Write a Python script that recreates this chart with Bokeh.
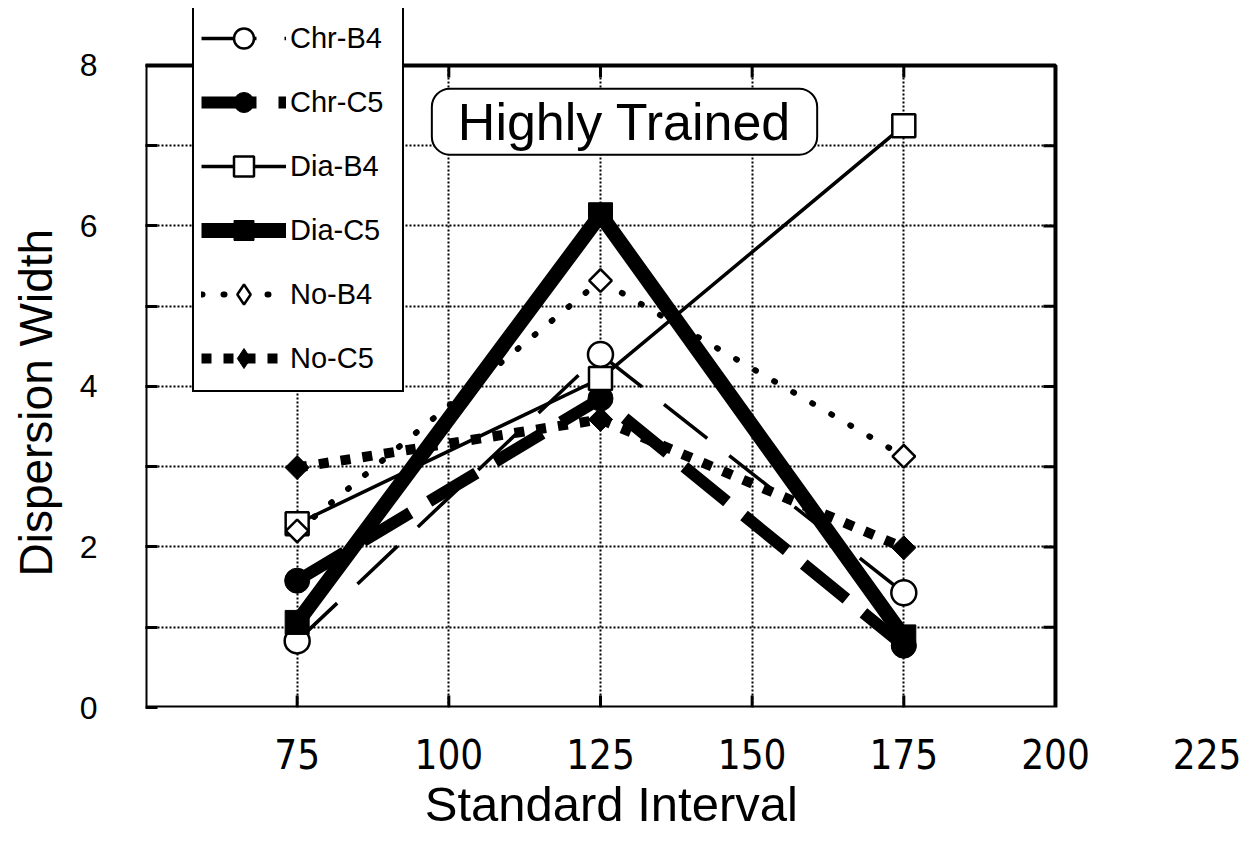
import math
from bokeh.plotting import figure
from bokeh.models import (Range1d, FixedTicker, Legend, LegendItem, Label, BoxAnnotation)
from bokeh.embed import file_html
from bokeh.resources import INLINE

# ---- data ----
intervals = [75, 125, 175]
chr_b4 = [0.83, 4.4, 1.43]
chr_c5 = [1.58, 3.85, 0.77]
dia_b4 = [2.29, 4.1, 7.25]
dia_c5 = [1.06, 6.14, 0.88]
no_b4 = [2.2, 5.32, 3.13]
no_c5 = [2.99, 3.59, 1.99]

x_ticks = [75, 100, 125, 150, 175, 200, 225]
x_grid = [75, 100, 125, 150, 175]
y_ticks = [0, 1, 2, 3, 4, 5, 6, 7, 8]
y_tick_labels = {0: "0", 1: "", 2: "2", 3: "", 4: "4", 5: "", 6: "6", 7: "", 8: "8"}
title_text = "Highly Trained"
x_title = "Standard Interval"
y_title = "Dispersion Width"

X0, X1, Y0, Y1 = 50, 200, 0, 8   # the drawn box

FONT = "Liberation Sans"
NARROW = "Liberation Sans Narrow, DejaVu Sans Condensed, Liberation Sans"
NBSP = "\u00a0"

FRAME_W, FRAME_H = 1095, 699
XMAX, YMAX = 230.5, 8.71

p = figure(width=1251, height=845, output_backend="svg", toolbar_location=None,
           x_range=Range1d(50, XMAX), y_range=Range1d(0, YMAX),
           min_border_left=145, min_border_top=8, min_border_right=11,
           min_border_bottom=138)
p.outline_line_color = None
p.background_fill_color = "white"
p.border_fill_color = "white"

xa = p.xaxis[0]
xa.ticker = FixedTicker(ticks=x_ticks)
xa.axis_label = x_title + NBSP * 12
xa.axis_label_text_font = FONT
xa.axis_label_text_font_style = "normal"
xa.axis_label_text_font_size = "49px"
xa.axis_label_text_color = "black"
xa.axis_label_standoff = 5
xa.major_label_text_font = NARROW
xa.major_label_text_font_size = "40px"
xa.major_label_text_color = "black"
xa.major_label_standoff = 31
xa.major_tick_in = 0
xa.major_tick_out = 0
xa.major_tick_line_color = None
xa.minor_tick_line_color = None
xa.axis_line_color = None

ya = p.yaxis[0]
ya.ticker = FixedTicker(ticks=y_ticks)
ya.major_label_overrides = y_tick_labels
ya.axis_label = y_title + NBSP * 7
ya.axis_label_text_font = FONT
ya.axis_label_text_font_style = "normal"
ya.axis_label_text_font_size = "46px"
ya.axis_label_text_color = "black"
ya.axis_label_standoff = 15
ya.major_label_text_font = FONT
ya.major_label_text_font_size = "32px"
ya.major_label_text_color = "black"
ya.major_label_standoff = 48
ya.major_tick_in = 12
ya.major_tick_out = 0
ya.minor_tick_line_color = None
ya.axis_line_color = None
ya.major_tick_line_width = 3
ya.major_tick_line_color = "black"

p.xgrid.ticker = FixedTicker(ticks=x_grid)
for g in (p.xgrid[0], p.ygrid[0]):
    g.grid_line_color = "black"
    g.grid_line_width = 2
    g.grid_line_dash = "2 2"

# masks outside the drawn box
p.add_layout(BoxAnnotation(left=X1, fill_color="white", fill_alpha=1, line_color=None,
                           level="annotation"))
p.add_layout(BoxAnnotation(bottom=Y1, fill_color="white", fill_alpha=1, line_color=None,
                           level="annotation"))

# inward ticks on the bottom, right and top edges of the box
tick_dx = 12 / (FRAME_W / (XMAX - 50))
tick_dy = 12 / (FRAME_H / YMAX)
ry = y_ticks[1:-1]
p.segment(x0=[X1] * len(ry), y0=ry, x1=[X1 - tick_dx] * len(ry), y1=ry,
          line_color="black", line_width=3)
tx = x_grid
p.segment(x0=tx, y0=[Y1] * len(tx), x1=tx, y1=[Y1 - tick_dy] * len(tx),
          line_color="black", line_width=3)
p.segment(x0=tx, y0=[Y0] * len(tx), x1=tx, y1=[Y0 + tick_dy] * len(tx),
          line_color="black", line_width=3)

# series
r = {}
r["cb4_l"] = p.line(intervals, chr_b4, line_color="black", line_width=3.5, line_dash="55 28")
r["cc5_l"] = p.line(intervals, chr_c5, line_color="black", line_width=12, line_dash="55 22")
r["db4_l"] = p.line(intervals, dia_b4, line_color="black", line_width=3.5)
r["nb4_l"] = p.line(intervals, no_b4, line_color="black", line_width=6, line_dash="1 21",
                    line_cap="round")
r["nc5_l"] = p.line(intervals, no_c5, line_color="black", line_width=10, line_dash="10 12")
r["dc5_l"] = p.line(intervals, dia_c5, line_color="black", line_width=15)

r["cb4_m"] = p.scatter(intervals, chr_b4, marker="circle", size=25, fill_color="white",
                       line_color="black", line_width=2.5)
r["cc5_m"] = p.scatter(intervals, chr_c5, marker="circle", size=25, fill_color="black",
                       line_color="black")
r["db4_m"] = p.scatter(intervals, dia_b4, marker="square", size=23, fill_color="white",
                       line_color="black", line_width=2.5)
r["dc5_m"] = p.scatter(intervals, dia_c5, marker="square", size=24, fill_color="black",
                       line_color="black")
r["nb4_m"] = p.scatter(intervals, no_b4, marker="square", angle=math.pi / 4, size=16,
                       fill_color="white", line_color="black", line_width=2.5)
r["nc5_m"] = p.scatter(intervals, no_c5, marker="square", angle=math.pi / 4, size=17,
                       fill_color="black", line_color="black")
# diamond glyphs used only for the legend keys
r["nb4_k"] = p.scatter(intervals, no_b4, marker="diamond", size=28, fill_color="white",
                       line_color="black", line_width=2.5, visible=False)
r["nc5_k"] = p.scatter(intervals, no_c5, marker="diamond", size=30, fill_color="black",
                       line_color="black", visible=False)

# drawn box (frame)
p.add_layout(BoxAnnotation(left=X0, right=X1, bottom=Y0, top=Y1, fill_alpha=0,
                           line_color="black", line_alpha=1, line_width=4,
                           level="annotation"))

labels = ["Chr-B4", "Chr-C5", "Dia-B4", "Dia-C5", "No-B4", "No-C5"]
rend = [["cb4_l", "cb4_m"], ["cc5_l", "cc5_m"], ["db4_l", "db4_m"], ["dc5_l", "dc5_m"],
        ["nb4_l", "nb4_k"], ["nc5_l", "nc5_k"]]
items = [LegendItem(label=lab, renderers=[r[k] for k in ks]) for lab, ks in zip(labels, rend)]
legend = Legend(items=items, location=(47, 315), glyph_width=85, glyph_height=50,
                label_height=50, label_width=105, spacing=14, padding=7, margin=0,
                label_text_font=FONT, label_text_font_size="29px", label_standoff=4,
                label_text_color="black",
                border_line_color="black", border_line_width=2, border_line_alpha=1,
                background_fill_color="white", background_fill_alpha=1.0)
p.add_layout(legend, "center")

title = Label(x=128.96, y=7.3, text=title_text, text_align="center", text_baseline="middle",
              text_font=FONT, text_font_size="52px", text_color="black",
              border_line_color="black", border_line_width=2,
              background_fill_color="white", padding=(26, 4), border_radius=18)
p.add_layout(title)

open("out.html", "w").write(file_html(p, INLINE))
